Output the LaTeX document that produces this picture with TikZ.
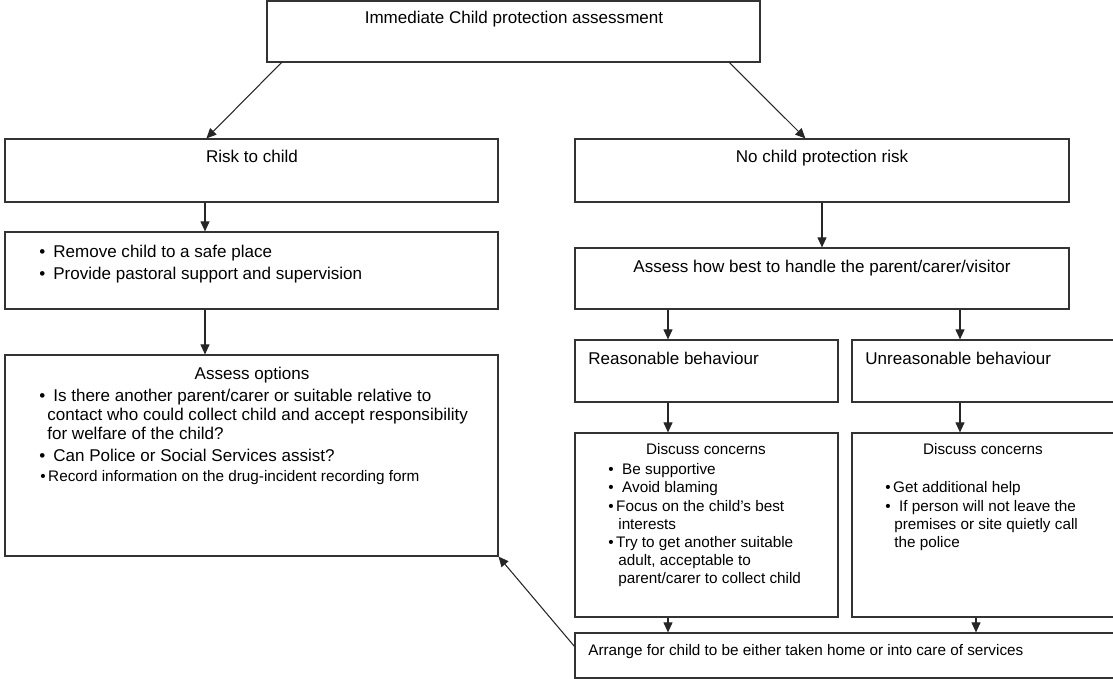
\documentclass[tikz,border=0pt]{standalone}
\usepackage{fontspec}
\setmainfont{Liberation Sans}
\usetikzlibrary{calc}
\usetikzlibrary{arrows.meta}
\tikzset{
	boxstyle/.style={rectangle,draw=black!80,line width=0.7pt,fill=white,inner sep=0pt},
	textstyle/.style={inner sep=0pt,anchor=base,font=\fontsize{9.7}{11}\selectfont},
	leftstyle/.style={textstyle,anchor=base west},
	smallstyle/.style={leftstyle,font=\fontsize{8.7}{10}\selectfont},
	arrowstyle/.style={-{Triangle[length=2mm,width=1.8mm]},draw=black!85,line width=0.6pt}
}

\begin{document}
\begin{tikzpicture}[x=0.02cm,y=-0.02cm]
		\useasboundingbox (0,0) rectangle (1113,679);
		% boxes
		\node[boxstyle,minimum width=9.86cm,minimum height=1.22cm] (top) at (513.5,31.5) {};
		\node[boxstyle,minimum width=9.86cm,minimum height=1.26cm] (risk) at (251.5,170.5) {};
		\node[boxstyle,minimum width=9.88cm,minimum height=1.26cm] (nocp) at (822,170.5) {};
		\node[boxstyle,minimum width=9.86cm,minimum height=1.54cm] (remove) at (251.5,270.5) {};
		\node[boxstyle,minimum width=9.88cm,minimum height=1.22cm] (handle) at (822,278.5) {};
		\node[boxstyle,minimum width=9.86cm,minimum height=4.02cm] (options) at (251.5,455.5) {};
		\node[boxstyle,minimum width=5.26cm,minimum height=1.24cm] (reas) at (706.5,371) {};
		\node[boxstyle,minimum width=5.36cm,minimum height=1.24cm] (unreas) at (986,371) {};
		\node[boxstyle,minimum width=5.26cm,minimum height=3.68cm] (disc1) at (706.5,525) {};
		\node[boxstyle,minimum width=5.36cm,minimum height=3.68cm] (disc2) at (986,525) {};
		\node[boxstyle,minimum width=10.9cm,minimum height=0.9cm] (arrange) at (847.5,655.5) {};
		% texts
		\node[textstyle] (toptext) at (514,24) {Immediate Child protection assessment};
		\node[textstyle] (risktext) at (252,163) {Risk to child};
		\node[textstyle] (nocptext) at (822,163) {No child protection risk};
		\node[leftstyle] (rem1) at (39,257) {\textbullet\hspace{0.16cm}Remove child to a safe place};
		\node[leftstyle] (rem2) at (39,279) {\textbullet\hspace{0.16cm}Provide pastoral support and supervision};
		\node[textstyle] (handletext) at (822,272) {Assess how best to handle the parent/carer/visitor};
		\node[textstyle] (opttitle) at (252,379) {Assess options};
		\node[leftstyle] (opt1) at (39,401) {\textbullet\hspace{0.16cm}Is there another parent/carer or suitable relative to};
		\node[leftstyle] (opt1b) at (47,420) {contact who could collect child and accept responsibility};
		\node[leftstyle] (opt1c) at (47,439) {for welfare of the child?};
		\node[leftstyle] (opt2) at (39,461) {\textbullet\hspace{0.16cm}Can Police or Social Services assist?};
		\node[smallstyle] (opt3) at (40,481) {\textbullet\,Record information on the drug-incident recording form};
		\node[leftstyle] (reastext) at (588,364) {Reasonable behaviour};
		\node[leftstyle] (unreastext) at (865,364) {Unreasonable behaviour};
		\node[smallstyle,anchor=base] (disc1title) at (706,454) {Discuss concerns};
		\node[smallstyle] (d1a) at (608,474) {\textbullet\ \ Be supportive};
		\node[smallstyle] (d1b) at (608,492) {\textbullet\ \ Avoid blaming};
		\node[smallstyle] (d1c) at (608,511) {\textbullet\,Focus on the child's best};
		\node[smallstyle] (d1d) at (618,529) {interests};
		\node[smallstyle] (d1e) at (608,547) {\textbullet\,Try to get another suitable};
		\node[smallstyle] (d1f) at (618,565) {adult, acceptable to};
		\node[smallstyle] (d1g) at (618,583) {parent/carer to collect child};
		\node[smallstyle,anchor=base] (disc2title) at (983,454) {Discuss concerns};
		\node[smallstyle] (d2a) at (885,492) {\textbullet\,Get additional help};
		\node[smallstyle] (d2b) at (885,511) {\textbullet\ \ If person will not leave the};
		\node[smallstyle] (d2c) at (894,529) {premises or site quietly call};
		\node[smallstyle] (d2d) at (894,547) {the police};
		\node[smallstyle] (arrangetext) at (588,655) {Arrange for child to be either taken home or into care of services};
		% connectors
		\draw[arrowstyle] ([xshift=0.3cm]top.south west) -- ([xshift=4.04cm]risk.north west);
		\draw[arrowstyle] ([xshift=-0.62cm]top.south east) -- ([xshift=4.62cm]nocp.north west);
		\draw[arrowstyle] (risk.south -| 205,0) -- (remove.north -| 205,0);
		\draw[arrowstyle] (remove.south -| 205,0) -- (options.north -| 205,0);
		\draw[arrowstyle] (nocp.south) -- (handle.north);
		\draw[arrowstyle] (handle.south -| 668,0) -- (reas.north -| 668,0);
		\draw[arrowstyle] (handle.south -| 960,0) -- (unreas.north -| 960,0);
		\draw[arrowstyle] (reas.south -| 668,0) -- (disc1.north -| 668,0);
		\draw[arrowstyle] (unreas.south -| 960,0) -- (disc2.north -| 960,0);
		\draw[arrowstyle] (disc1.south -| 668,0) -- (arrange.north -| 668,0);
		\draw[arrowstyle] (disc2.south -| 976,0) -- (arrange.north -| 976,0);
		\draw[arrowstyle] ([yshift=-0.28cm]arrange.north west) -- (options.south east);
\end{tikzpicture}
\end{document}
